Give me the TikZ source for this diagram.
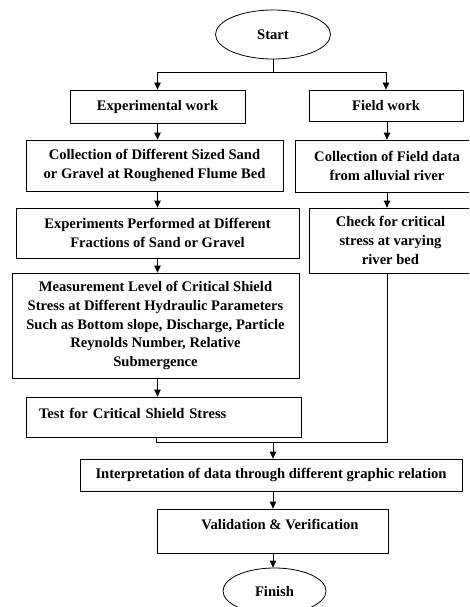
\documentclass[tikz,border=0pt]{standalone}
\usepackage{fontspec}
\setmainfont{Liberation Serif}
\usetikzlibrary{shapes.geometric,arrows.meta}
\begin{document}
\begin{tikzpicture}[x=1pt,y=-1pt,
  every node/.style={font=\bfseries\fontsize{14.6}{18.7}\selectfont, inner sep=0pt},
  box/.style={draw, line width=0.8pt, rectangle, align=center},
  oval/.style={draw, line width=0.8pt, ellipse},
  conn/.style={line width=0.8pt},
  arr/.style={line width=0.8pt, -{Triangle[length=7pt,width=6.5pt]}}]
\clip (0,0) rectangle (469,607);
\fill[white] (0,0) rectangle (469,607);
% nodes
\node[oval, minimum width=115, minimum height=49] (start) at (273,34.5) {Start};
\node[box, minimum width=175, minimum height=33] (exp) at (157.5,106.5) {Experimental work};
\node[box, minimum width=154, minimum height=31] (field) at (386,105.5) {Field work};
\node[box, minimum width=257, minimum height=51] (coll) at (154.5,165.5) {Collection of Different Sized Sand\\or Gravel at Roughened Flume Bed};
\node[box, minimum width=184, minimum height=52] (cfield) at (387,166) {Collection of Field data\\from alluvial river};
\node[box, minimum width=283, minimum height=50] (expt) at (157.5,233) {Experiments Performed at Different\\Fractions of Sand or Gravel};
\node[box, minimum width=163, minimum height=65] (check) at (390.5,240.5) {Check for critical\\stress at varying\\river bed};
\node[box, minimum width=287, minimum height=105] (meas) at (155.5,325.5) {Measurement Level of Critical Shield\\Stress at Different Hydraulic Parameters\\Such as Bottom slope, Discharge, Particle\\Reynolds Number, Relative\\Submergence};
\node[box, minimum width=275, minimum height=40, align=left, text width=249, inner xsep=13pt, text height=10pt, text depth=8pt] (test) at (163.5,417) {Test for Critical Shield Stress};
\node[box, minimum width=382, minimum height=32] (interp) at (271,475) {Interpretation of data through different graphic relation};
\node[box, minimum width=231, minimum height=44, text height=10pt, text depth=14pt] (valid) at (272.5,531) {\hspace*{15pt}Validation \& Verification};
\node[oval, minimum width=103, minimum height=46] (finish) at (274.5,591) {Finish};
% junctions
\coordinate (j1) at (273,72);
\coordinate (j2) at (387,442);
\coordinate (j3) at (156,442);
\coordinate (j4) at (273,442);
% connectors
\draw[conn] (start.south) -- (j1);
\draw[arr] (j1) -| (exp.north);
\draw[arr] (j1) -| (field.north);
\draw[arr] (exp.south) -- (exp.south |- coll.north);
\draw[arr] (j2 |- field.south) -- (j2 |- cfield.north);
\draw[arr] (exp.south |- coll.south) -- (exp.south |- expt.north);
\draw[arr] (j2 |- cfield.south) -- (j2 |- check.north);
\draw[arr] (exp.south |- expt.south) -- (exp.south |- meas.north);
\draw[arr] (exp.south |- meas.south) -- (exp.south |- test.north);
\draw[conn] (j3 |- test.south) -- (j3) -- (j2) -- (j2 |- check.south);
\draw[arr] (j4) -- (j4 |- interp.north);
\draw[arr] (j4 |- interp.south) -- (j4 |- valid.north);
\draw[arr] (j4 |- valid.south) -- (j4 |- finish.north);
\end{tikzpicture}
\end{document}
